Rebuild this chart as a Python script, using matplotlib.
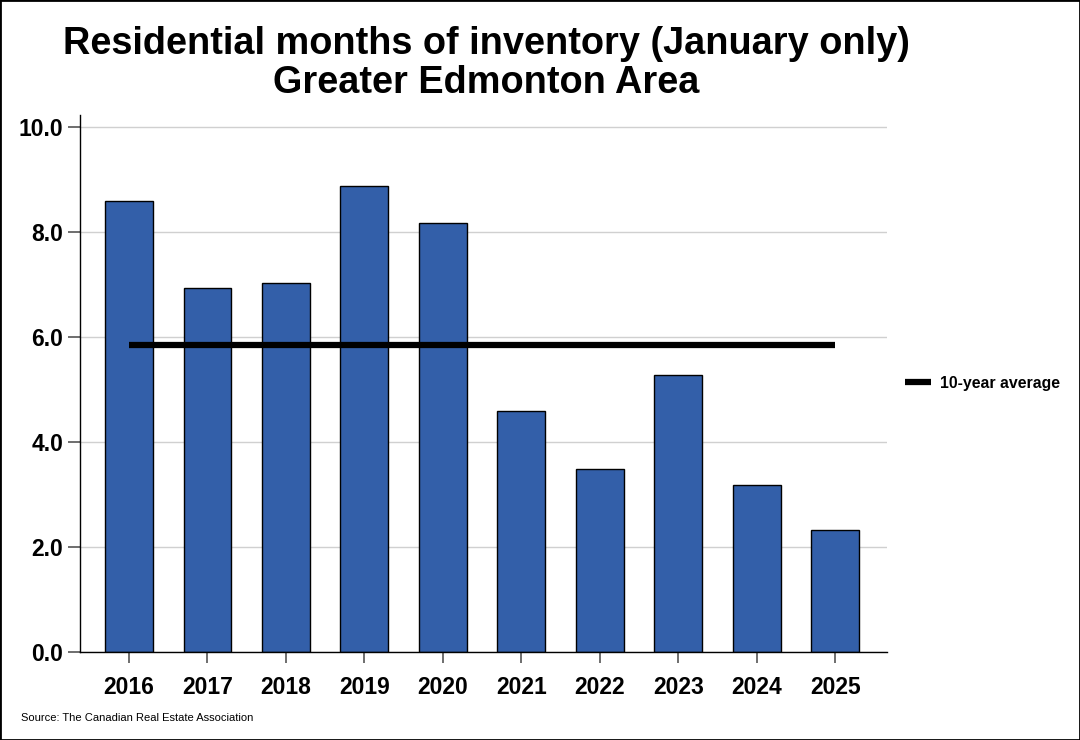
import numpy as np
import matplotlib.pyplot as plt
from matplotlib.lines import Line2D

plt.rcParams['font.family'] = ['Liberation Sans', 'DejaVu Sans']

years = ['2016', '2017', '2018', '2019', '2020', '2021', '2022', '2023', '2024', '2025']
months_inventory = [8.59, 6.93, 7.03, 8.87, 8.17, 4.59, 3.49, 5.28, 3.18, 2.33]
ten_year_avg = 5.85
y_ticks = [0.0, 2.0, 4.0, 6.0, 8.0, 10.0]

fig = plt.figure(figsize=(10.8, 7.4), dpi=100)
ax = fig.add_axes([0.0741, 0.1189, 0.7472, 0.7257])

x = np.arange(len(years))
ax.bar(x, months_inventory, width=0.61, color='#335FA9', edgecolor='black',
       linewidth=1.0, zorder=2)
ax.plot([x[0], x[-1]], [ten_year_avg, ten_year_avg], color='black',
        linewidth=4.5, solid_capstyle='butt', zorder=3)

ax.set_xlim(-0.624, 9.66)
ax.set_ylim(0, 10.23)
ax.set_yticks(y_ticks)
ax.set_yticklabels([f'{v:.1f}' for v in y_ticks], fontsize=16.5, fontweight='bold')
ax.set_xticks(x)
ax.set_xticklabels(years, fontsize=16.5, fontweight='bold')
ax.tick_params(axis='y', length=8.6, width=1.2, color='#555555', pad=3.6)
ax.tick_params(axis='x', length=8, width=1.2, color='#555555', pad=9)
ax.grid(axis='y', color='#d0d0d0', linewidth=1.0, zorder=0)
ax.set_axisbelow(True)
for s in ['top', 'right']:
    ax.spines[s].set_visible(False)
ax.spines['left'].set_linewidth(1.0)
ax.spines['bottom'].set_linewidth(1.0)

handle = Line2D([0], [0], color='black', linewidth=4.5, solid_capstyle='butt')
fig.legend([handle], ['10-year average'], loc='center left',
           bbox_to_anchor=(0.825, 0.482), frameon=False, handlelength=1.6,
           handletextpad=0.6, prop={'weight': 'bold', 'size': 11.4})

fig.text(0.45, 0.94, 'Residential months of inventory (January only)',
         ha='center', va='center', fontsize=27.3, fontweight='bold')
fig.text(0.45, 0.888, 'Greater Edmonton Area', ha='center', va='center',
         fontsize=27.3, fontweight='bold')
fig.text(0.019, 0.03, 'Source: The Canadian Real Estate Association',
         ha='left', va='center', fontsize=8)

fig.patches.append(plt.Rectangle((0, 0), 1, 1, transform=fig.transFigure,
                                 fill=False, edgecolor='black', linewidth=2))

fig.savefig('out.png', dpi=100)
